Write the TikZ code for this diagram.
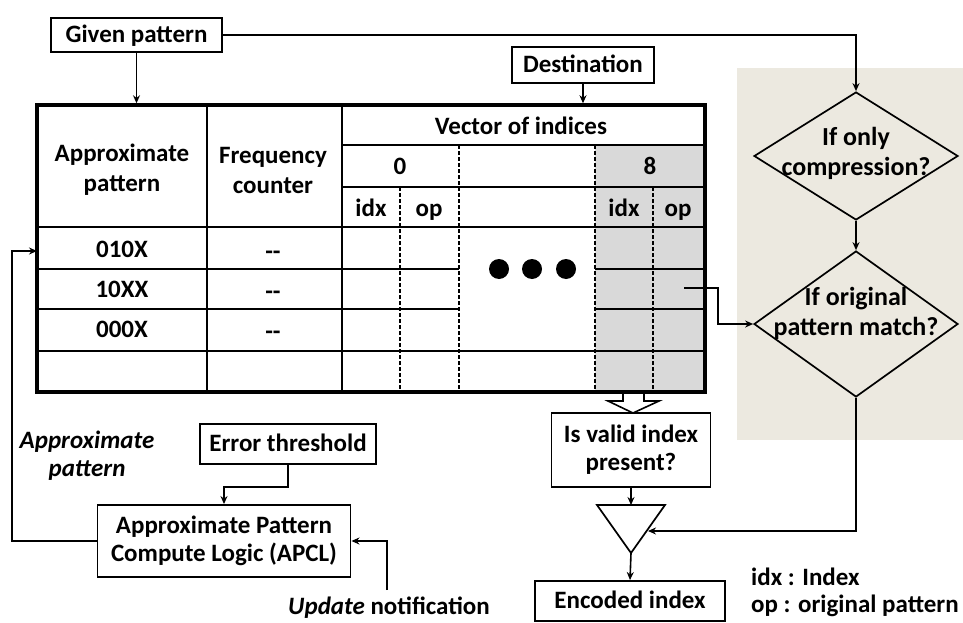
\documentclass[tikz,border=0pt]{standalone}
\usepackage{fontspec}
\setmainfont{Carlito}
\usetikzlibrary{shapes.geometric, arrows.meta, calc}

\definecolor{beige}{RGB}{236,233,224}
\definecolor{cellgray}{RGB}{217,217,217}

\begin{document}
\begin{tikzpicture}[x=1pt, y=-1pt,
  font=\fontsize{25}{28}\selectfont\bfseries,
  box/.style={draw, line width=1.9pt, inner sep=0pt, align=center},
  lbl/.style={inner sep=0pt, align=center},
  one/.style={lbl, text height=18pt, text depth=3pt},
  conn/.style={line width=1.6pt, -{Stealth[length=8pt, width=7pt]}},
  rowline/.style={line width=1.7pt},
  thickline/.style={line width=2.8pt},
  dashline/.style={line width=1.3pt, dash pattern=on 3.5pt off 2.5pt},
  dia/.style={draw, shape=diamond, line width=1.7pt, inner sep=0pt, minimum width=204pt}]

\useasboundingbox (0,0) rectangle (963,623);

% shaded decision area
\fill[beige] (737,68) rectangle (963,440);

% source boxes
\node[box, one, minimum width=171pt, minimum height=34pt] (given) at (136.5,35) {Given pattern};
\node[box, one, minimum width=142pt, minimum height=36pt] (dest) at (583,65) {Destination};

% ---- table ----
\fill[cellgray] (595,145) rectangle (705,392);
\node[draw, line width=3.5pt, minimum width=668pt, minimum height=287pt, inner sep=0pt] (tbl) at (371,248.5) {};
\draw[thickline] (207,105) -- (207,392);
\draw[thickline] (342,105) -- (342,392);
\draw[thickline] (37,227) -- (705,227);
\draw[thickline] (342,145) -- (705,145);
\draw[thickline] (342,187) -- (705,187);
\draw[rowline] (37,269) -- (459,269) (595,269) -- (705,269);
\draw[rowline] (37,309) -- (459,309) (595,309) -- (705,309);
\draw[rowline] (37,351) -- (705,351);
\draw[dashline] (400,187) -- (400,392);
\draw[dashline] (459,145) -- (459,392);
\draw[dashline] (595,145) -- (595,392);
\draw[dashline] (653,187) -- (653,392);

% table headers
\node[lbl, font=\fontsize{25}{30}\selectfont\bfseries] (hap) at (122,170) {Approximate\\pattern};
\node[lbl, font=\fontsize{25}{30}\selectfont\bfseries] (hfc) at (273,170) {Frequency\\counter};
\node[one] (hvec) at (521,127) {Vector of indices};
\node[one] (h0) at (400,167) {0};
\node[one] (h8) at (650,167) {8};
\node[one] (i0) at (371,209) {idx};
\node[one] (o0) at (429,209) {op};
\node[one] (i8) at (624,209) {idx};
\node[one] (o8) at (678,209) {op};

% table rows
\node[one] (r1) at (122,250) {010X};
\node[one] (r2) at (122,290) {10XX};
\node[one] (r3) at (122,330) {000X};
\node[one] (c1) at (273,252) {{-}{-}};
\node[one] (c2) at (273,292) {{-}{-}};
\node[one] (c3) at (273,332) {{-}{-}};
\foreach \x in {499,532,566} \fill (\x,269) circle (10pt);

% decision diamonds
\node[dia, minimum height=128pt] (d1) at (856,156) {};
\node[lbl, font=\fontsize{26}{30}\selectfont\bfseries] (d1t) at (856,153) {If only\\compression?};
\node[dia, minimum height=146pt] (d2) at (856,324) {};
\node[lbl, font=\fontsize{26}{30}\selectfont\bfseries] (d2t) at (856,313) {If original\\pattern match?};

% output path
\node[box, minimum width=159pt, minimum height=74pt] (valid) at (631,450) {Is valid index\\present?};
\coordinate (muxtl) at (597,505);
\coordinate (muxtr) at (665,505);
\coordinate (muxb) at (631,553);
\coordinate (muxtop) at (631,505);
\coordinate (muxr) at (648,531);
\draw[line width=1.7pt] (muxtl) -- (muxtr) -- (muxb) -- cycle;
\node[box, one, minimum width=190pt, minimum height=40pt] (enc) at (630,601) {Encoded index};

% hollow arrow out of the table
\draw[line width=1.6pt, fill=white] (623,394) -- (623,401) -- (608,401) -- (633,413) -- (659,401) -- (644,401) -- (644,394);

% legend
\node[one, anchor=west] (leg1) at (751,578) {idx : Index};
\node[one, anchor=west] (leg2) at (751,605) {op : original pattern};

% pattern computation
\node[box, one, minimum width=176pt, minimum height=40pt] (err) at (288,444) {Error threshold};
\node[box, minimum width=253pt, minimum height=72pt] (apcl) at (224,541) {Approximate Pattern\\Compute Logic (APCL)};
\node[lbl] (aplbl) at (87,456) {\itshape Approximate\\\itshape pattern};
\node[one] (upd) at (389,607) {\itshape Update\upshape{} notification};

% connectors
\coordinate (in010) at (37,251);
\coordinate (rowout) at (684,288);
\coordinate (updsrc) at (387,590);
\draw[conn] (given.south) -- (given.south |- tbl.north);
\draw[conn] (dest.south) -- (dest.south |- tbl.north);
\draw[conn] (given.east) -| (d1.north);
\draw[conn] (d1.south) -- (d2.north);
\draw[conn] (rowout) -- (718,288) -- (718,324) -- (d2.west);
\draw[conn] (d2.south) |- (muxr);
\draw[conn] (valid.south) -- (muxtop);
\draw[conn] (muxb) -- (enc.north);
\draw[conn] (err.south) -- ++(0,22) -| (apcl.north);
\draw[conn] (apcl.west) -| (12,251) -- (in010);
\draw[conn] (updsrc) |- (apcl.east);

\end{tikzpicture}
\end{document}
